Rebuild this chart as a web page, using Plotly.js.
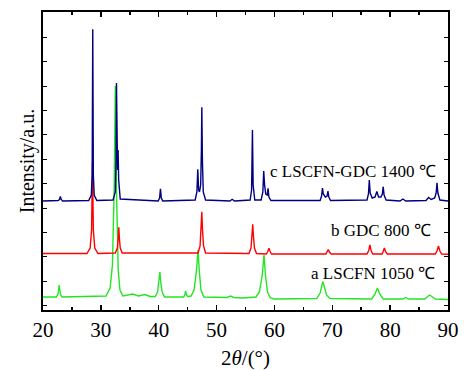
<!DOCTYPE html>
<html>
<head>
<meta charset="utf-8">
<script src="https://cdn.plot.ly/plotly-3.0.1.min.js"></script>
<style>html,body{margin:0;padding:0;background:#fff;}#chart{width:464px;height:370px;}</style>
</head>
<body>
<div id="chart"></div>
<script>
// 2theta (deg) and intensity (a.u., offset stacked)
const xC = [20,22.6,22.85,23.0,23.15,23.4,27.9,28.35,28.5,28.6,28.7,28.85,29.3,32.1,32.5,32.62,32.7,32.8,32.88,32.98,33.08,33.35,39.9,40.15,40.3,40.45,40.7,46.3,46.6,46.75,46.9,47.05,47.25,47.38,47.45,47.55,47.7,48.1,52.3,52.7,53.1,55.8,56.05,56.2,56.32,56.6,57.7,58.0,58.15,58.3,58.5,58.75,58.9,59.05,59.4,67.9,68.15,68.3,68.45,68.8,69.1,69.25,69.4,69.7,76.0,76.25,76.4,76.55,76.9,77.4,77.7,78.0,78.4,78.65,78.8,78.95,79.3,81.7,82.2,82.7,86.2,86.65,87.1,87.7,87.95,88.1,88.25,88.6,90];
const yC = [109,109.5,110.5,113.5,110.5,109,109.5,115,135,280.7,135,115,109.5,110,118,150,227,150,140,160,130,111,109,112,121.3,112,109,110,118,140.7,120,118,125,160,202.7,150,118,110,109,110.7,109,110,120,180,125,110,110,118,139,125,116,115,121.7,113,109.5,109.5,114,122,116,113,114,119,113,109.5,110,116,130,117,112,113,118.5,113,113,116,123.3,115,110,109,111,109,109.5,112.5,110.5,112,117,127.3,117,110,109];

const xB = [20,27.6,28.15,28.4,28.55,28.7,28.95,29.5,32.5,32.85,33.0,33.1,33.2,33.35,33.7,46.8,47.15,47.33,47.45,47.57,47.75,48.1,55.6,55.95,56.13,56.25,56.37,56.55,56.9,58.6,58.85,59.05,59.25,59.5,68.9,69.1,69.3,69.5,69.8,76.0,76.3,76.5,76.7,77.0,78.6,78.8,79.0,79.2,79.5,87.8,88.1,88.35,88.6,88.9,90];
const yB = [56.5,56.5,62,80,148,80,62,56.5,57,62,72,82.7,72,62,57,57,64,80,98.3,80,64,57,56.5,62,74,85.7,74,62,56.5,56,58.5,61.7,58.5,56,56,58,60.5,58,56,56,59.5,65,59.5,56,56,58.5,62,58.5,56,56,59,64,59,56,55.7];

const xA = [20,22.3,22.6,22.8,23.0,23.3,30.9,31.6,32.0,32.3,32.5,32.7,33.0,33.3,33.8,35.5,36.5,37.6,38.5,39.4,39.8,40.05,40.2,40.35,40.6,41.0,44.3,44.5,44.65,44.8,45.0,45.6,46.1,46.5,46.8,47.0,47.3,47.8,51.8,52.4,53.0,54.5,55.5,56.8,57.4,57.9,58.2,58.45,58.8,59.3,60.0,67.3,67.9,68.2,68.35,68.6,69.0,69.6,76.8,77.4,77.8,78.2,78.8,82.2,82.7,83.2,86.0,86.5,86.8,87.2,87.8,90];
const yA = [13,13,16,25,16,13,14,22,45,120,224,120,40,20,14,16,14,15.5,13.5,13.5,18,28,38,28,18,13,13,15,19,15,13.5,14,20,38,60,40,20,13,12.5,14,12.5,12,12.5,13,18,35,55,35,18,12,11,11.5,17,25,28.3,24,15,11.5,11,16,22,16,11,11,12.5,11,11,13.5,15,13.5,11,10.5];

const labels = ['a LSCFN 1050 ℃', 'b GDC 800 ℃', 'c LSCFN-GDC 1400 ℃'];
const labelX = [65.9, 69.5, 58.85];
const labelY = [37, 79.3, 138.3];
const colors = ['#22e622', '#ff0000', '#000080'];

const font = '"Liberation Serif", "Times New Roman", Times, serif';
const traces = [
  {x: xA, y: yA, mode: 'lines', line: {color: colors[0], width: 1.4}, hoverinfo: 'skip'},
  {x: xB, y: yB, mode: 'lines', line: {color: colors[1], width: 1.4}, hoverinfo: 'skip'},
  {x: xC, y: yC, mode: 'lines', line: {color: colors[2], width: 1.4}, hoverinfo: 'skip'}
];
const annotations = labels.map((t, i) => ({
  text: t, x: labelX[i], y: labelY[i], xref: 'x', yref: 'y',
  xanchor: 'left', yanchor: 'middle', showarrow: false,
  font: {family: font, size: 17, color: '#000'}
}));
const layout = {
  width: 464, height: 370,
  margin: {l: 43, r: 16, t: 12, b: 60},
  paper_bgcolor: '#fff', plot_bgcolor: '#fff',
  showlegend: false,
  font: {family: font, color: '#000'},
  xaxis: {
    range: [20, 90], tickmode: 'linear', tick0: 20, dtick: 10,
    ticks: 'inside', ticklen: 5, tickwidth: 1.5, tickcolor: '#000',
    minor: {ticks: 'inside', dtick: 5, ticklen: 3, tickwidth: 1.5, tickcolor: '#000'},
    showline: true, linewidth: 2, linecolor: '#000', mirror: 'ticks',
    showgrid: false, zeroline: false,
    tickfont: {family: font, size: 21, color: '#000'},
    title: {text: '2<i>θ</i>/(°)', font: {family: font, size: 21, color: '#000'}, standoff: 11}
  },
  yaxis: {
    range: [0, 298], tickmode: 'linear', tick0: 4.3, dtick: 24.4,
    ticks: 'inside', ticklen: 4, tickwidth: 1, tickcolor: '#000',
    showticklabels: false,
    showline: true, linewidth: 2, linecolor: '#000', mirror: 'ticks',
    showgrid: false, zeroline: false,
    title: {text: 'Intensity/a.u.', font: {family: font, size: 20, color: '#000'}, standoff: 1}
  },
  annotations: annotations
};
Plotly.newPlot('chart', traces, layout, {staticPlot: true, displayModeBar: false});
</script>
</body>
</html>
